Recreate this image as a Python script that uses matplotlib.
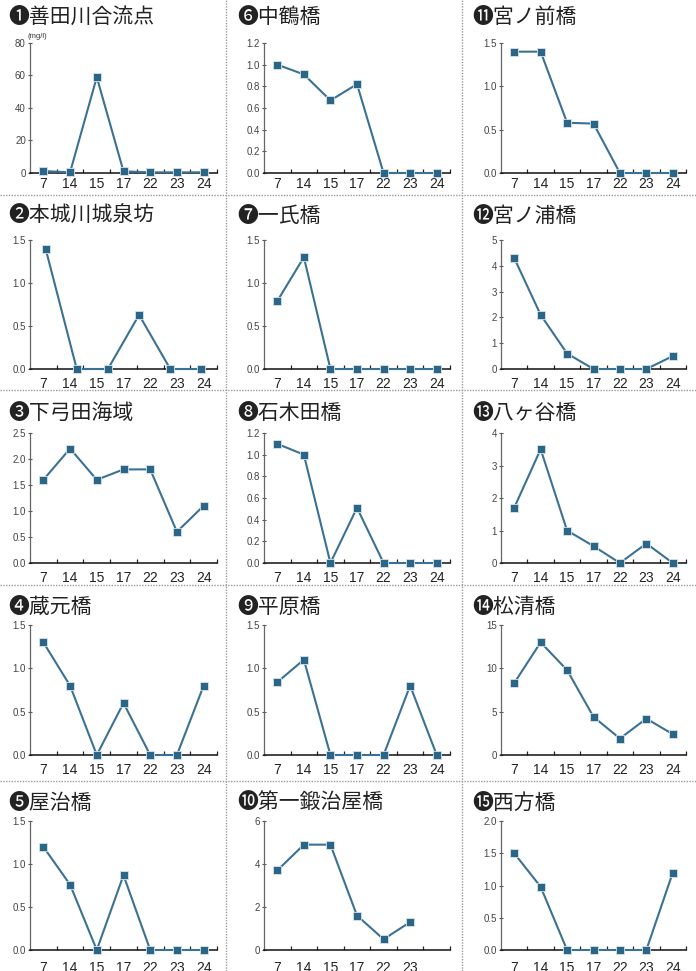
import numpy as np
import matplotlib
matplotlib.use("Agg")
import matplotlib.pyplot as plt
from matplotlib.lines import Line2D

# ---- data ----
categories = ["7", "14", "15", "17", "22", "23", "24"]

titles = {
    1: "❶善田川合流点", 2: "❷本城川城泉坊", 3: "❸下弓田海域", 4: "❹蔵元橋", 5: "❺屋治橋",
    6: "❻中鶴橋", 7: "❼一氏橋", 8: "❽石木田橋", 9: "❾平原橋", 10: "❿第一鍛治屋橋",
    11: "⓫宮ノ前橋", 12: "⓬宮ノ浦橋", 13: "⓭八ヶ谷橋", 14: "⓮松清橋", 15: "⓯西方橋",
}

v1 = [1.2, 0.4, 59, 1.0, 0.4, 0.4, 0.4]
v2 = [1.4, 0.0, 0.0, 0.63, 0.0, 0.0]          # six points spread over the axis
v3 = [1.6, 2.2, 1.6, 1.8, 1.8, 0.6, 1.1]
v4 = [1.3, 0.8, 0.0, 0.6, 0.0, 0.0, 0.8]
v5 = [1.2, 0.76, 0.0, 0.87, 0.0, 0.0, 0.0]
v6 = [1.0, 0.91, 0.67, 0.82, 0.0, 0.0, 0.0]
v7 = [0.79, 1.3, 0.0, 0.0, 0.0, 0.0, 0.0]
v8 = [1.1, 1.0, 0.0, 0.51, 0.0, 0.0, 0.0]
v9 = [0.84, 1.1, 0.0, 0.0, 0.0, 0.8, 0.0]
v10 = [3.7, 4.9, 4.9, 1.6, 0.5, 1.3]          # no value for 24
v11 = [1.4, 1.4, 0.58, 0.57, 0.0, 0.0, 0.0]
v12 = [4.3, 2.1, 0.6, 0.0, 0.0, 0.0, 0.5]
v13 = [1.7, 3.5, 1.0, 0.52, 0.0, 0.6, 0.0]
v14 = [8.3, 13.0, 9.8, 4.4, 1.9, 4.2, 2.4]
v15 = [1.5, 0.98, 0.0, 0.0, 0.0, 0.0, 1.2]

values = {1: v1, 2: v2, 3: v3, 4: v4, 5: v5, 6: v6, 7: v7, 8: v8, 9: v9, 10: v10,
          11: v11, 12: v12, 13: v13, 14: v14, 15: v15}

yticks = {
    1: [0, 20, 40, 60, 80], 2: [0.0, 0.5, 1.0, 1.5], 3: [0.0, 0.5, 1.0, 1.5, 2.0, 2.5],
    4: [0.0, 0.5, 1.0, 1.5], 5: [0.0, 0.5, 1.0, 1.5],
    6: [0.0, 0.2, 0.4, 0.6, 0.8, 1.0, 1.2], 7: [0.0, 0.5, 1.0, 1.5],
    8: [0.0, 0.2, 0.4, 0.6, 0.8, 1.0, 1.2], 9: [0.0, 0.5, 1.0, 1.5], 10: [0, 2, 4, 6],
    11: [0.0, 0.5, 1.0, 1.5], 12: [0, 1, 2, 3, 4, 5], 13: [0, 1, 2, 3, 4],
    14: [0, 5, 10, 15], 15: [0.0, 0.5, 1.0, 1.5, 2.0],
}
ylabel_fmt = {1: "{:.0f}", 10: "{:.0f}", 12: "{:.0f}", 13: "{:.0f}", 14: "{:.0f}"}

# ---- layout (pixels) ----
W, H = 696, 971
fig = plt.figure(figsize=(W / 100, H / 100), dpi=100)

col_x = [(30, 217), (264, 450), (501, 686)]
row_y = [(43, 173), (240, 369), (433, 563), (625, 755), (821, 950)]
title_x = [8, 237, 472]
title_y = [17, 216, 413, 607, 803]

line_c = "#3b7193"
mark_c = "#2b6687"

for col in range(3):
    for row in range(5):
        n = col * 5 + row + 1
        x0, x1 = col_x[col]
        yt, yb = row_y[row]
        ax = fig.add_axes([x0 / W, 1 - yb / H, (x1 - x0) / W, (yb - yt) / H])
        yv = yticks[n]
        ax.set_ylim(0, yv[-1])
        ax.set_xlim(-0.5, len(categories) - 0.5)
        vals = values[n]
        if n == 2:
            ax2 = ax.twiny()
            ax2.set_xlim(-0.5, len(vals) - 0.5)
            ax2.plot(range(len(vals)), vals, color=line_c, lw=1.5, marker="s", ms=5.5,
                     mfc=mark_c, mec="#d6e4ec", mew=0.6, clip_on=False, zorder=5)
            ax2.axis("off")
        else:
            ax.plot(range(len(vals)), vals, color=line_c, lw=1.5, marker="s", ms=5.5,
                    mfc=mark_c, mec="#d6e4ec", mew=0.6, clip_on=False, zorder=5)
        # x axis
        labs = categories if n != 10 else categories[:len(vals)]
        ax.set_xticks(range(len(labs)))
        ax.set_xticklabels(labs, family=["Liberation Sans", "DejaVu Sans"], fontsize=10,
                           color="#222222")
        ax.set_xticks(np.arange(0.5, len(categories), 1.0), minor=True)
        pad = 3 if row == 0 else (8 if row == 4 else 6)
        ax.tick_params(axis="x", which="major", length=0, pad=pad)
        ax.tick_params(axis="x", which="minor", length=3, direction="in", width=0.9,
                       color="#222222")
        # y axis
        ax.set_yticks(yv)
        fmt = ylabel_fmt.get(n, "{:.1f}")
        ax.set_yticklabels([fmt.format(v) for v in yv],
                           family=["Liberation Sans", "DejaVu Sans"], fontsize=7,
                           color="#444444")
        ax.tick_params(axis="y", length=3, direction="inout", width=0.8, color="#555555",
                       pad=1.5)
        for s in ("top", "right"):
            ax.spines[s].set_visible(False)
        ax.spines["left"].set_color("#666666")
        ax.spines["left"].set_linewidth(0.9)
        ax.spines["bottom"].set_color("#111111")
        ax.spines["bottom"].set_linewidth(1.1)
        ax.patch.set_alpha(0)
        # title
        fig.text(title_x[col] / W, 1 - title_y[row] / H, titles[n],
                 family=["Noto Sans CJK JP", "DejaVu Sans"], fontsize=15,
                 color="#222222", ha="left", va="center")

# unit label
fig.text(27 / W, 1 - 37 / H, "(mg/l)", family=["Liberation Sans", "DejaVu Sans"],
         fontsize=5.5, color="#333333", ha="left", va="center")

# dotted separators
sep = dict(color="#9a9a9a", lw=1.0, linestyle=(0, (1, 1)))
for xv in (226, 462):
    fig.add_artist(Line2D([xv / W, xv / W], [0, 1], transform=fig.transFigure, **sep))
for yv_ in (195, 390, 585, 781):
    fig.add_artist(Line2D([0, 1], [1 - yv_ / H, 1 - yv_ / H], transform=fig.transFigure, **sep))

fig.savefig("out.png", dpi=100)
